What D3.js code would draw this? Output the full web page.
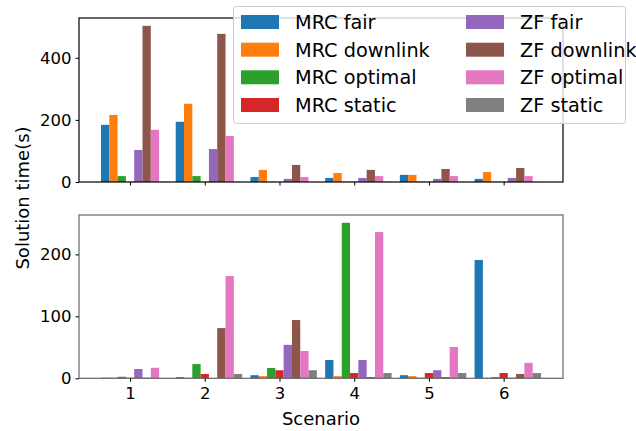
<!DOCTYPE html>
<html>
<head>
<meta charset="utf-8">
<script src="https://cdn.jsdelivr.net/npm/d3@7"></script>
<style>
  body { margin: 0; background: #fff; }
  svg { display: block; font-family: "DejaVu Sans", sans-serif; }
</style>
</head>
<body>
<svg id="chart" width="636" height="431"></svg>
<script>
// scenarios on the x axis
const scenarios = [1, 2, 3, 4, 5, 6];
const seriesNames = ['MRC fair', 'MRC downlink', 'MRC optimal', 'MRC static',
                     'ZF fair', 'ZF downlink', 'ZF optimal', 'ZF static'];
const colors = ['#1f77b4', '#ff7f0e', '#2ca02c', '#d62728',
                '#9467bd', '#8c564b', '#e377c2', '#7f7f7f'];

// upper panel solution times (s), one array per series
const topMrcFair     = [184, 194, 16, 13, 23, 10];
const topMrcDownlink = [216, 252, 39, 29, 23, 32];
const topMrcOptimal  = [19, 19, 1, 1, 1, 1];
const topMrcStatic   = [0.5, 0.5, 0.5, 0.5, 0.5, 0.5];
const topZfFair      = [103, 106, 10, 13, 10, 13];
const topZfDownlink  = [503, 477, 55, 39, 42, 45];
const topZfOptimal   = [168, 148, 16, 19, 19, 19];
const topZfStatic    = [0.5, 0.5, 0.5, 0.5, 0.5, 0.5];

// lower panel solution times (s)
const botMrcFair     = [1, 2, 5, 29.5, 5, 191];
const botMrcDownlink = [1, 1, 3.5, 3.5, 3.5, 1];
const botMrcOptimal  = [2.5, 23, 16.6, 251, 1, 2];
const botMrcStatic   = [1, 7, 13, 8.5, 8.5, 8.5];
const botZfFair      = [15, 0.5, 54, 29.5, 13, 1];
const botZfDownlink  = [1, 81, 94, 2, 2, 7];
const botZfOptimal   = [17, 165, 44, 236, 50.5, 25];
const botZfStatic    = [0.5, 7, 13, 8.5, 8.5, 8.5];

const topTicks = [0, 200, 400];
const botTicks = [0, 100, 200];

const topSeries = [topMrcFair, topMrcDownlink, topMrcOptimal, topMrcStatic,
                   topZfFair, topZfDownlink, topZfOptimal, topZfStatic];
const botSeries = [botMrcFair, botMrcDownlink, botMrcOptimal, botMrcStatic,
                   botZfFair, botZfDownlink, botZfOptimal, botZfStatic];

const svg = d3.select('#chart');
const left = 79, right = 563;
const barW = 1 / 9;

// matplotlib-like x limits: bar extent plus 5% margins
const xMin = d3.min(scenarios) - 3.5 * barW;
const xMax = d3.max(scenarios) + 4.5 * barW;
const pad = (xMax - xMin) * 0.05;
const x = d3.scaleLinear().domain([xMin - pad, xMax + pad]).range([left, right]);

function drawPanel(series, ticks, top, bottom, spineColor, showXLabels) {
  const maxV = d3.max(series, s => d3.max(s));
  const y = d3.scaleLinear().domain([0, maxV * 1.05]).range([bottom, top]);
  const g = svg.append('g');

  series.forEach((vals, i) => {
    g.selectAll(null)
      .data(vals)
      .join('rect')
      .attr('x', (d, j) => x(scenarios[j] + (i - 3) * barW - barW / 2))
      .attr('width', x(barW) - x(0))
      .attr('y', d => y(d))
      .attr('height', d => y(0) - y(d))
      .attr('fill', colors[i]);
  });

  // spines
  g.append('rect')
    .attr('x', left).attr('y', top)
    .attr('width', right - left).attr('height', bottom - top)
    .attr('fill', 'none')
    .attr('stroke', spineColor)
    .attr('stroke-width', 1.2);

  const yAxis = d3.axisLeft(y).tickValues(ticks).tickSize(3.5).tickPadding(4).tickSizeOuter(0);
  const yg = g.append('g').attr('transform', `translate(${left},0)`).call(yAxis);
  yg.select('.domain').remove();
  yg.selectAll('.tick line').attr('stroke', '#000').attr('stroke-width', 1);
  yg.selectAll('.tick text').attr('font-size', 16.5).attr('fill', '#000')
    .attr('font-family', '"DejaVu Sans", sans-serif');

  const xAxis = d3.axisBottom(x).tickValues(scenarios).tickSize(3.5).tickPadding(5)
    .tickFormat(showXLabels ? d3.format('d') : () => '');
  const xg = g.append('g').attr('transform', `translate(0,${bottom})`).call(xAxis);
  xg.select('.domain').remove();
  xg.selectAll('.tick line').attr('stroke', '#000').attr('stroke-width', 1);
  xg.selectAll('.tick text').attr('font-size', 16.5).attr('fill', '#000')
    .attr('font-family', '"DejaVu Sans", sans-serif');
}

drawPanel(topSeries, topTicks, 18, 182, '#000', false);
drawPanel(botSeries, botTicks, 215, 378.3, '#666', true);

// axis labels
svg.append('text')
  .attr('x', (left + right) / 2)
  .attr('y', 425)
  .attr('text-anchor', 'middle')
  .attr('font-size', 18)
  .attr('fill', '#000')
  .text('Scenario');

svg.append('text')
  .attr('transform', 'translate(29,198) rotate(-90)')
  .attr('text-anchor', 'middle')
  .attr('font-size', 18)
  .attr('fill', '#000')
  .text('Solution time(s)');

// legend
const legend = svg.append('g');
legend.append('rect')
  .attr('x', 233.5).attr('y', 6.5)
  .attr('width', 392).attr('height', 117)
  .attr('rx', 3)
  .attr('fill', '#fff').attr('fill-opacity', 0.8)
  .attr('stroke', '#ccc');

const colX = [241, 466];
const rowY = [22, 49.7, 77.3, 105];
seriesNames.forEach((name, i) => {
  const cx = colX[Math.floor(i / 4)];
  const cy = rowY[i % 4];
  legend.append('rect')
    .attr('x', cx).attr('y', cy - 7)
    .attr('width', 38).attr('height', 14)
    .attr('fill', colors[i]);
  legend.append('text')
    .attr('x', cx + 54).attr('y', cy + 7)
    .attr('font-size', 19.3)
    .attr('fill', '#000')
    .text(name);
});
</script>
</body>
</html>
